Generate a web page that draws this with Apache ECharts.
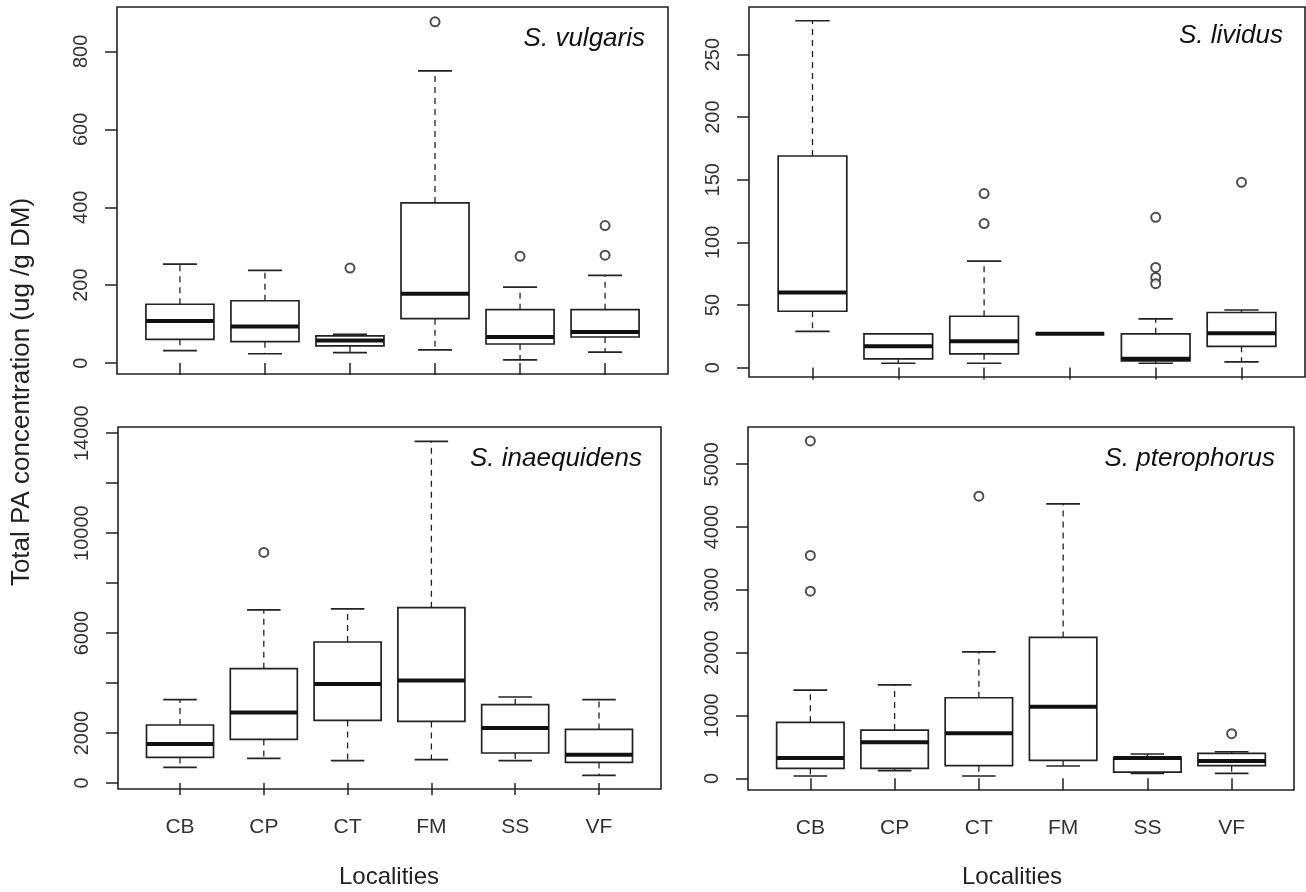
<!DOCTYPE html>
<html>
<head>
<meta charset="utf-8">
<title>Total PA concentration by locality</title>
<script src="https://cdn.jsdelivr.net/npm/echarts@6/dist/echarts.min.js"></script>
<style>
  html, body { margin: 0; padding: 0; background: #fff; }
  #chart { width: 1306px; height: 892px; }
</style>
</head>
<body>
<div id="chart"></div>
<script>
// localities on the x axis (positions 1..6)
var localities = ['CB', 'CP', 'CT', 'FM', 'SS', 'VF'];

// box stats per locality: [lower whisker, Q1, median, Q3, upper whisker]
var vulgarisStats = [
  [32, 61, 108, 151, 254],
  [24, 55, 94, 160, 238],
  [27, 44, 58, 70, 74],
  [34, 114, 178, 411, 750],
  [8, 49, 67, 137, 195],
  [28, 67, 80, 137, 225]
];
// outliers: [locality position, value]
var vulgarisOutliers = [[3, 244], [4, 876], [5, 274], [6, 353], [6, 277]];

var lividusStats = [
  [29, 45, 60, 169, 277],
  [3.5, 7, 17, 27, 27],
  [3.5, 11, 21, 41, 85],
  [27, 27, 27, 27, 27],
  [3.5, 5.4, 7, 27, 39],
  [4.6, 17, 27.5, 44, 46]
];
var lividusOutliers = [[3, 139], [3, 115], [5, 120], [5, 80], [5, 72], [5, 67], [6, 148]];

var inaequidensStats = [
  [625, 1025, 1561, 2322, 3335],
  [985, 1745, 2826, 4576, 6926],
  [893, 2506, 3963, 5645, 6966],
  [933, 2466, 4107, 7018, 13675],
  [893, 1201, 2202, 3134, 3443],
  [304, 825, 1133, 2146, 3335]
];
var inaequidensOutliers = [[2, 9231]];

var pterophorusStats = [
  [37, 159, 323, 891, 1405],
  [121, 159, 573, 768, 1489],
  [37, 201, 716, 1283, 2014],
  [196, 286, 1139, 2243, 4368],
  [80, 100, 323, 334, 387],
  [80, 201, 275, 398, 423]
];
var pterophorusOutliers = [[1, 5371], [1, 3548], [1, 2980], [3, 4491], [6, 710]];

// y axis tick values and which of them get a label
var vulgarisTicks = [0, 200, 400, 600, 800];
var lividusTicks = [0, 50, 100, 150, 200, 250];
var inaequidensTicks = [0, 2000, 4000, 6000, 8000, 10000, 12000, 14000];
var inaequidensLabels = [0, 2000, 6000, 10000, 14000];
var pterophorusTicks = [0, 1000, 2000, 3000, 4000, 5000];

var speciesNames = ['S. vulgaris', 'S. lividus', 'S. inaequidens', 'S. pterophorus'];

var font = '"Liberation Sans", Arial, sans-serif';
var ink = '#222';

var panels = [
  { grid: { left: 117, top: 7, width: 551, height: 367 }, yMin: -28, yMax: 914,
    stats: vulgarisStats, outliers: vulgarisOutliers, ticks: vulgarisTicks, labels: vulgarisTicks, xLabels: false },
  { grid: { left: 749, top: 7, width: 556, height: 370 }, yMin: -7.5, yMax: 288,
    stats: lividusStats, outliers: lividusOutliers, ticks: lividusTicks, labels: lividusTicks, xLabels: false },
  { grid: { left: 118, top: 427, width: 543, height: 362 }, yMin: -240, yMax: 14250,
    stats: inaequidensStats, outliers: inaequidensOutliers, ticks: inaequidensTicks, labels: inaequidensLabels, xLabels: true },
  { grid: { left: 748, top: 427, width: 546, height: 363 }, yMin: -186, yMax: 5593,
    stats: pterophorusStats, outliers: pterophorusOutliers, ticks: pterophorusTicks, labels: pterophorusTicks, xLabels: true }
];

function renderBox(params, api) {
  var x = api.value(0);
  var lo = api.coord([x, api.value(1)]);
  var q1 = api.coord([x, api.value(2)]);
  var med = api.coord([x, api.value(3)]);
  var q3 = api.coord([x, api.value(4)]);
  var hi = api.coord([x, api.value(5)]);
  var w = api.size([0.8, 0])[0];
  var cx = lo[0];
  var dashed = { stroke: ink, lineWidth: 1.3, lineDash: [6, 5] };
  var solid = { stroke: ink, lineWidth: 1.7 };
  return {
    type: 'group',
    children: [
      { type: 'line', shape: { x1: cx, y1: q3[1], x2: cx, y2: hi[1] }, style: dashed },
      { type: 'line', shape: { x1: cx, y1: q1[1], x2: cx, y2: lo[1] }, style: dashed },
      { type: 'line', shape: { x1: cx - w / 4, y1: hi[1], x2: cx + w / 4, y2: hi[1] }, style: solid },
      { type: 'line', shape: { x1: cx - w / 4, y1: lo[1], x2: cx + w / 4, y2: lo[1] }, style: solid },
      { type: 'rect', shape: { x: cx - w / 2, y: q3[1], width: w, height: q1[1] - q3[1] },
        style: { fill: '#fff', stroke: ink, lineWidth: 1.7 } },
      { type: 'line', shape: { x1: cx - w / 2, y1: med[1], x2: cx + w / 2, y2: med[1] },
        style: { stroke: '#111', lineWidth: 4 } }
    ]
  };
}

var grids = [], xAxes = [], yAxes = [], series = [];

panels.forEach(function (p, i) {
  grids.push(Object.assign({ show: true, borderColor: ink, borderWidth: 1.6, backgroundColor: '#fff' }, p.grid));

  xAxes.push({
    type: 'value', gridIndex: i, min: 0.26, max: 6.74,
    splitLine: { show: false },
    axisLine: { show: false },
    axisTick: { show: true, customValues: [1, 2, 3, 4, 5, 6], length: 12, lineStyle: { color: ink, width: 1.5 } },
    axisLabel: {
      show: p.xLabels, customValues: [1, 2, 3, 4, 5, 6], margin: 28,
      formatter: function (v) { return localities[Math.round(v) - 1]; },
      fontSize: 21, color: '#333', fontFamily: font
    }
  });

  yAxes.push({
    type: 'value', gridIndex: i, min: p.yMin, max: p.yMax,
    splitLine: { show: false },
    axisLine: { show: false },
    axisTick: { show: true, customValues: p.ticks, length: 12, lineStyle: { color: ink, width: 1.5 } },
    axisLabel: {
      customValues: p.labels, rotate: 90, margin: 26,
      formatter: function (v) { return String(v); },
      fontSize: 20, color: '#333', fontFamily: font
    }
  });

  series.push({
    type: 'custom', xAxisIndex: i, yAxisIndex: i,
    renderItem: renderBox,
    encode: { x: 0, y: [1, 2, 3, 4, 5] },
    data: p.stats.map(function (s, k) { return [k + 1].concat(s); })
  });

  series.push({
    type: 'scatter', xAxisIndex: i, yAxisIndex: i,
    symbol: 'emptyCircle', symbolSize: 9,
    itemStyle: { color: ink, borderWidth: 1.5 },
    data: p.outliers
  });
});

var speciesPos = [[645, 39], [1283, 36], [642, 459], [1275, 459]];

var graphics = speciesNames.map(function (name, i) {
  return {
    type: 'text', x: speciesPos[i][0], y: speciesPos[i][1],
    style: { text: name, align: 'right', verticalAlign: 'middle', fill: '#111',
      font: 'italic 26px ' + font }
  };
});
graphics.push(
  { type: 'text', x: 389, y: 877, style: { text: 'Localities', align: 'center', verticalAlign: 'middle', fill: '#222', font: '24px ' + font } },
  { type: 'text', x: 1012, y: 877, style: { text: 'Localities', align: 'center', verticalAlign: 'middle', fill: '#222', font: '24px ' + font } },
  { type: 'text', x: 22, y: 392, rotation: Math.PI / 2,
    style: { text: 'Total PA concentration (ug /g DM)', align: 'center', verticalAlign: 'middle', fill: '#222', font: '26px ' + font } }
);

var chart = echarts.init(document.getElementById('chart'));
chart.setOption({
  animation: false,
  backgroundColor: '#fff',
  grid: grids,
  xAxis: xAxes,
  yAxis: yAxes,
  series: series,
  graphic: graphics
});
</script>
</body>
</html>
